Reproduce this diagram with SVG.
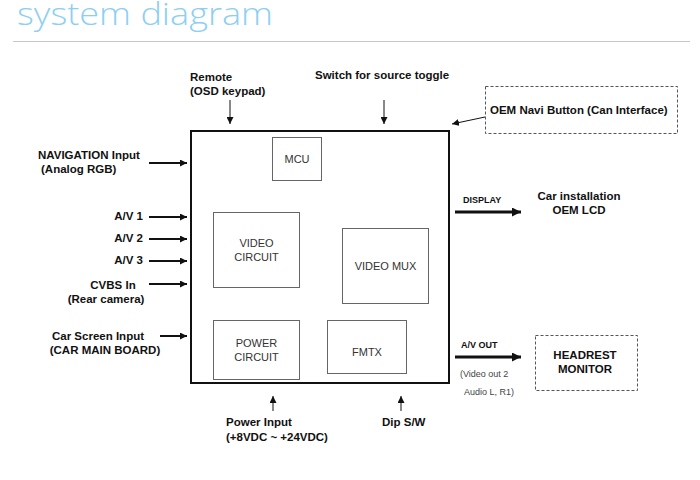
<svg xmlns="http://www.w3.org/2000/svg" width="700" height="480" viewBox="0 0 700 480">
<defs>
<style>
.t{font-family:"Liberation Sans",Arial,sans-serif;font-size:11.5px;font-weight:bold;fill:#111}
.s{font-family:"Liberation Sans",Arial,sans-serif;font-size:9px;font-weight:bold;fill:#111}
.n{font-family:"Liberation Sans",Arial,sans-serif;font-size:11px;fill:#333}
.g{font-family:"Liberation Sans",Arial,sans-serif;font-size:9px;fill:#444}
.blk{fill:#fff;stroke:#666;stroke-width:1}
.dash{fill:#fff;stroke:#555;stroke-width:1;stroke-dasharray:3,2}
.a1{stroke:#111;stroke-width:1;fill:none;marker-end:url(#h1)}
.a2{stroke:#111;stroke-width:2;fill:none;marker-end:url(#h2)}
.a3{stroke:#111;stroke-width:3;fill:none;marker-end:url(#h3)}
</style>
<marker id="h1" viewBox="0 0 10 10" refX="10" refY="5" markerWidth="7" markerHeight="7" markerUnits="userSpaceOnUse" orient="auto"><path d="M0,0L10,5L0,10z" fill="#111"/></marker>
<marker id="h2" viewBox="0 0 10 10" refX="10" refY="5" markerWidth="7" markerHeight="7" markerUnits="userSpaceOnUse" orient="auto"><path d="M0,0L10,5L0,10z" fill="#111"/></marker>
<marker id="h3" viewBox="0 0 10 10" refX="10" refY="5" markerWidth="9" markerHeight="9" markerUnits="userSpaceOnUse" orient="auto"><path d="M0,0L10,5L0,10z" fill="#111"/></marker>
</defs>
<rect width="700" height="480" fill="#fff"/>
<g id="title">
<text x="17" y="25" font-family="'Open Sans','Noto Sans',sans-serif" font-size="31" font-weight="300" fill="#8dcff4" textLength="256" lengthAdjust="spacingAndGlyphs">system diagram</text>
<line x1="13" y1="41.5" x2="690" y2="41.5" stroke="#c8c8c8" stroke-width="1"/>
</g>
<g id="main">
<rect x="191" y="131" width="258" height="252" fill="#fff" stroke="#111" stroke-width="2"/>
</g>
<g id="mcu"><rect class="blk" x="272.5" y="137.5" width="49" height="43"/><text class="n" x="297" y="163" text-anchor="middle">MCU</text></g>
<g id="video-circuit"><rect class="blk" x="213.5" y="212.5" width="86" height="75"/><text class="n" x="256.5" y="247" text-anchor="middle">VIDEO</text><text class="n" x="256.5" y="261" text-anchor="middle">CIRCUIT</text></g>
<g id="video-mux"><rect class="blk" x="342.5" y="228.5" width="86" height="75"/><text class="n" x="385.5" y="270" text-anchor="middle">VIDEO MUX</text></g>
<g id="power-circuit"><rect class="blk" x="213.5" y="320.5" width="86" height="59"/><text class="n" x="256.5" y="347" text-anchor="middle">POWER</text><text class="n" x="256.5" y="361" text-anchor="middle">CIRCUIT</text></g>
<g id="fmtx"><rect class="blk" x="327.5" y="320.5" width="79" height="53"/><text class="n" x="367" y="356" text-anchor="middle">FMTX</text></g>
<g id="remote"><text class="t" x="190" y="81">Remote</text><text class="t" x="190" y="95">(OSD keypad)</text></g>
<g id="switch"><text class="t" x="315" y="79">Switch for source toggle</text></g>
<g id="oem-navi"><rect class="dash" x="485.5" y="86.5" width="192" height="47"/><text class="t" x="490" y="114">OEM Navi Button (Can Interface)</text></g>
<g id="nav-input"><text class="t" x="38" y="159">NAVIGATION Input</text><text class="t" x="41" y="173">(Analog RGB)</text></g>
<g id="av1"><text class="t" x="143" y="220" text-anchor="end">A/V 1</text></g>
<g id="av2"><text class="t" x="143" y="242" text-anchor="end">A/V 2</text></g>
<g id="av3"><text class="t" x="143" y="264" text-anchor="end">A/V 3</text></g>
<g id="cvbs"><text class="t" x="113" y="289" text-anchor="middle">CVBS In</text><text class="t" x="106" y="303" text-anchor="middle">(Rear camera)</text></g>
<g id="car-screen"><text class="t" x="98" y="340" text-anchor="middle">Car Screen Input</text><text class="t" x="105" y="354" text-anchor="middle">(CAR MAIN  BOARD)</text></g>
<g id="display"><text class="s" x="463" y="203">DISPLAY</text></g>
<g id="oem-lcd"><text class="t" x="579" y="200" text-anchor="middle">Car installation</text><text class="t" x="579" y="214" text-anchor="middle">OEM LCD</text></g>
<g id="av-out"><text class="s" x="461" y="348">A/V OUT</text><text class="g" x="460" y="377">(Video out 2</text><text class="g" x="464" y="395">Audio L, R1)</text></g>
<g id="headrest"><rect class="dash" x="535.5" y="335.5" width="102" height="55"/><text class="t" x="585" y="359" text-anchor="middle">HEADREST</text><text class="t" x="585" y="373" text-anchor="middle">MONITOR</text></g>
<g id="power-input"><text class="t" x="226" y="426">Power Input</text><text class="t" x="226" y="441">(+8VDC ~ +24VDC)</text></g>
<g id="dip"><text class="t" x="382" y="426">Dip S/W</text></g>
<g id="connectors">
<line class="a1" x1="230" y1="100" x2="230" y2="124"/>
<line class="a1" x1="384" y1="100" x2="384" y2="124"/>
<line class="a1" x1="485" y1="117" x2="452" y2="124"/>
<line class="a2" x1="149" y1="163" x2="187" y2="163"/>
<line class="a2" x1="149" y1="217" x2="187" y2="217"/>
<line class="a2" x1="149" y1="239" x2="187" y2="239"/>
<line class="a2" x1="149" y1="261" x2="187" y2="261"/>
<line class="a2" x1="149" y1="284" x2="187" y2="284"/>
<line class="a2" x1="160" y1="336" x2="187" y2="336"/>
<line class="a3" x1="455" y1="212" x2="521" y2="212"/>
<line class="a3" x1="455" y1="357" x2="521" y2="357"/>
<line class="a1" x1="273" y1="411" x2="273" y2="396"/>
<line class="a1" x1="401" y1="411" x2="401" y2="396"/>
</g>
</svg>
